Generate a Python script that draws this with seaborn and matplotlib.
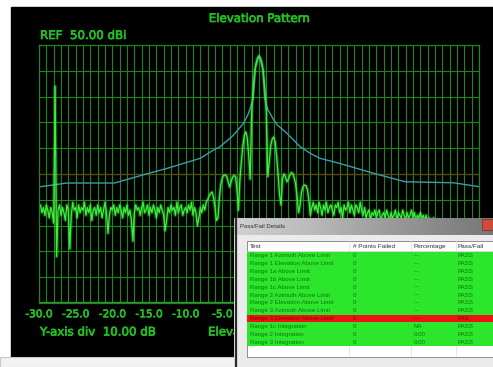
import numpy as np
import matplotlib
matplotlib.use("Agg")
import matplotlib.pyplot as plt
import matplotlib.patheffects as pe
import seaborn as sns
from matplotlib.patches import Rectangle
from matplotlib.ticker import MultipleLocator

sns.set_style("dark")
plt.rcParams['font.family'] = ['DejaVu Sans']

# ---- data ----
# measured elevation pattern, -30..30 deg, one value every 0.2 deg (dBi)
angle_start = -30.0
angle_step = 0.2
gain_db = [
    -13, -12, -15, -13, -16, -12, -14, -17, -13, -15,      # -30.0
    -19, 34, -32, -14, -12, -16, -13, -15, -18, -12,       # -28.0
    -14, -29, -16, -11, -14, -13, -17, -12, -15, -13,      # -26.0
    -14, -11, -16, -13, -15, -12, -18, -14, -13, -16,      # -24.0
    -12, -15, -13, -17, -14, -11, -15, -23, -16, -13,      # -22.0
    -14, -12, -16, -13, -15, -12, -14, -17, -13, -15,      # -20.0
    -12, -16, -14, -18, -26, -15, -12, -14, -13, -16,      # -18.0
    -13, -11, -15, -14, -12, -16, -13, -15, -12, -14,      # -16.0
    -17, -13, -15, -12, -14, -16, -22, -18, -13, -15,      # -14.0
    -12, -14, -13, -16, -11, -15, -13, -12, -16, -14,      # -12.0
    -13, -15, -12, -14, -11, -16, -13, -15, -20, -17,      # -10.0
    -13, -15, -12, -14, -11, -10, -8.5, -7.5, -7, -9,      # -8.0
    -13, -18, -17, -9, -4, -1.5, -0.5, -0.4, -1, -3,       # -6.0
    -5, -3, -1.2, -0.6, -1, -6, -14, -2, 5, 11,            # -4.0
    15, 16.3, 14, 7, -2, 24, 33, 39.5, 43, 45,             # -2.0
    45.7, 45, 43, 39.5, 33, 24, -1, 5, 11, 13.5,           # 0.0
    14.3, 12.5, 7, 0, -8, -12, -2, 0, -1, -3,              # 2.0
    -2, -0.5, 0.5, 0.3, -1.5, -4, -9, -15, -12, -7,        # 4.0
    -5, -4.3, -4.5, -6, -10, -16, -13, -11, -14, -12,      # 6.0
    -15, -11, -13, -16, -12, -14, -11, -15, -13, -12,      # 8.0
    -14, -16, -12, -13, -11, -15, -13, -17, -12, -14,      # 10.0
    -13, -11, -15, -12, -14, -16, -12, -13, -15, -11,      # 12.0
    -14, -16, -13, -17, -15, -14, -18, -15, -16, -14,      # 14.0
    -17, -15, -14, -18, -16, -15, -17, -14, -16, -18,      # 16.0
    -15, -17, -16, -14, -18, -15, -16, -17, -14, -16,      # 18.0
    -18, -15, -17, -16, -14, -17, -15, -18, -16, -17,      # 20.0
    -15, -17, -16, -18, -16, -19, -17, -18, -20, -17,      # 22.0
    -19, -21, -18, -20, -22, -19, -21, -18, -20, -19,      # 24.0
    -21, -19, -22, -20, -18, -21, -23, -19, -20, -22,      # 26.0
    -20, -22, -19, -21, -23, -20, -22, -19, -21, -20,      # 28.0
    -22,                                                    # 30.0
]
angles = np.round(angle_start + angle_step * np.arange(len(gain_db)), 1)

# limit mask
mask_angle = [-30, -26.2, -19.7, -15, -12.5, -10.3, -8, -6.2, -5.3, -4.4, -3.5,
              -2.1, -1.5, -1.2, -0.8, -0.5, 0, 0.5, 0.8, 1.2, 2.0, 2.5, 3.8,
              5.6, 7.0, 8.3, 11, 13.3, 15.6, 19.9, 26.5, 30]
mask_db = [-5.0, -3.5, -3.5, 0.3, 2.2, 4.1, 6.1, 9.3, 10.6, 12.8, 15.0,
           19.7, 23.0, 25.5, 29.0, 41.0, 46.0, 41.0, 29.0, 25.0, 21.0, 19.0, 15.8,
           10.6, 8.0, 6.1, 4.1, 2.2, 0.3, -3.0, -3.4, -4.9]

# only the left labels are visible, the rest sit under the dialog
x_ticks = [-30, -25, -20, -15, -10, -5]
x_tick_labels = ['-30.0', '-25.0', '-20.0', '-15.0', '-10.0', '-5.0']
y_ticks = [-50, -40, -30, -20, -10, 0, 10, 20, 30, 40, 50]

# pass/fail table
test_names = ['Range 1 Azimuth Above Limit', 'Range 1 Elevation Above Limit',
              'Range 1a Above Limit', 'Range 1b Above Limit', 'Range 1c Above Limit',
              'Range 2 Azimuth Above Limit', 'Range 2 Elevation Above Limit',
              'Range 3 Azimuth Above Limit', 'Range 3 Elevation Above Limit',
              'Range 1c Integration', 'Range 2 Integration', 'Range 3 Integration']
points_failed = ['0', '0', '0', '0', '0', '0', '0', '0', '1', '0', '0', '0']
percentages = ['---', '---', '---', '---', '---', '---', '---', '---', '---',
               'NA', '0.00', '0.00']
results = ['PASS', 'PASS', 'PASS', 'PASS', 'PASS', 'PASS', 'PASS', 'PASS', 'FAIL',
           'PASS', 'PASS', 'PASS']
columns = ['Test', '# Points Failed', 'Percentage', 'Pass/Fail']

# ---- colours ----
txt_green = '#22c022'
grid_green = '#1d861d'
trace_green = '#3cf03c'
mask_col = '#3d9cab'
glow = [pe.withStroke(linewidth=0.5, foreground=txt_green)]

W, H = 493, 367
fig = plt.figure(figsize=(W / 100, H / 100), dpi=100, facecolor='white')

# background (pixel coordinates)
bg = fig.add_axes([0, 0, 1, 1], zorder=0)
bg.set_xlim(0, W)
bg.set_ylim(H, 0)
bg.axis('off')
bg.add_patch(Rectangle((11, 7), W - 11, 350, color='black'))
bg.add_patch(Rectangle((0, 357), W, 10, facecolor='#f2f2f2', edgecolor='#c8c8c8', lw=0.8))
bg.text(259.5, 18.5, 'Elevation Pattern', color=txt_green, fontsize=8.5,
        ha='center', va='center', path_effects=glow)
bg.text(40, 35.5, 'REF  50.00 dBi', color=txt_green, fontsize=8.5,
        ha='left', va='center', path_effects=glow)
bg.text(40, 332, 'Y-axis div  10.00 dB', color=txt_green, fontsize=8.5,
        ha='left', va='center', path_effects=glow)
bg.text(208, 332, 'Eleva', color=txt_green, fontsize=8.5,
        ha='left', va='center', path_effects=glow)

# pattern plot
ax = fig.add_axes([39 / W, 1 - 303 / H, 440 / W, 258 / H], zorder=1)
ax.set_facecolor('black')
ax.set_xlim(-30, 30)
ax.set_ylim(-50, 50)
ax.set_xticks(x_ticks)
ax.set_xticklabels(x_tick_labels)
ax.set_yticks(y_ticks)
ax.set_yticklabels([])
ax.xaxis.set_minor_locator(MultipleLocator(1))
ax.grid(which='both', color=grid_green, lw=0.8)
ax.tick_params(which='both', length=0, colors=txt_green, labelsize=7.6, pad=4.5)
for lab in ax.get_xticklabels():
    lab.set_path_effects(glow)
for sp in ax.spines.values():
    sp.set_color(grid_green)
    sp.set_linewidth(0.9)
ax.axhline(0, color='#5e4816', lw=0.9, zorder=1.5)
ax.axhline(-50, color='#2aa02a', lw=2.4, zorder=1.5)

sns.lineplot(x=mask_angle, y=mask_db, ax=ax, color=mask_col, lw=1.0, estimator=None)
sns.lineplot(x=angles, y=gain_db, ax=ax, color=trace_green, lw=2.6, alpha=0.3, estimator=None)
sns.lineplot(x=angles, y=gain_db, ax=ax, color=trace_green, lw=0.9, estimator=None)
ax.set_xlim(-30, 30)
ax.set_ylim(-50, 50)
ax.set_xlabel('')
ax.set_ylabel('')

# pass/fail dialog on top
ov = fig.add_axes([0, 0, 1, 1], zorder=3)
ov.set_xlim(0, W)
ov.set_ylim(H, 0)
ov.axis('off')
ov.patch.set_alpha(0)
ov.add_patch(Rectangle((234, 218), W - 234, H - 218, facecolor='#ebebeb', lw=0))
grad = np.linspace(0, 1, 256)[None, :]
ov.imshow(grad, extent=(234, W, 235, 218), aspect='auto', cmap='Greys',
          vmin=-0.9, vmax=2.2, zorder=1)
ov.plot([235.5, 235.5], [218, H], color='#2b2b2b', lw=1.6, zorder=2)
ov.text(240, 226, 'Pass/Fail Details', fontsize=4.3, color='#303030', ha='left', va='center',
        zorder=3, family='Liberation Sans')
ov.add_patch(Rectangle((481.5, 219), 13, 11, facecolor='#cf4a3c', edgecolor='#8a2a20',
                       lw=0.5, zorder=3))

# list view
ov.add_patch(Rectangle((246.5, 240.5), W - 246, 116, facecolor='white', edgecolor='#8d8d8d',
                       lw=0.7, zorder=2))
col_x = [250, 353, 414, 458]
sep_x = [349, 411, 456]
for sx in sep_x:
    ov.plot([sx, sx], [241, 356], color='#e2e2e2', lw=0.6, zorder=3)
ov.plot([247, W], [251, 251], color='#d0d0d0', lw=0.6, zorder=3)
for cx, name in zip(col_x, columns):
    ov.text(cx, 246.3, name, fontsize=4.6, color='#303030', ha='left', va='center', zorder=4,
            family='Liberation Sans')

row_top = 252.0
row_h = 7.83
for i in range(len(test_names)):
    y0 = row_top + i * row_h
    failed = results[i] == 'FAIL'
    fc = '#ee1212' if failed else '#2be62b'
    tc = '#8a0000' if failed else '#137313'
    ov.add_patch(Rectangle((247, y0), W - 247, row_h, facecolor=fc, lw=0, zorder=3))
    yc = y0 + row_h / 2
    for cx, val in zip(col_x, [test_names[i], points_failed[i], percentages[i], results[i]]):
        ov.text(cx, yc, val, fontsize=4.4, color=tc, ha='left', va='center', zorder=4,
                family='Liberation Sans')

fig.savefig('out.png', dpi=100, facecolor='white')
